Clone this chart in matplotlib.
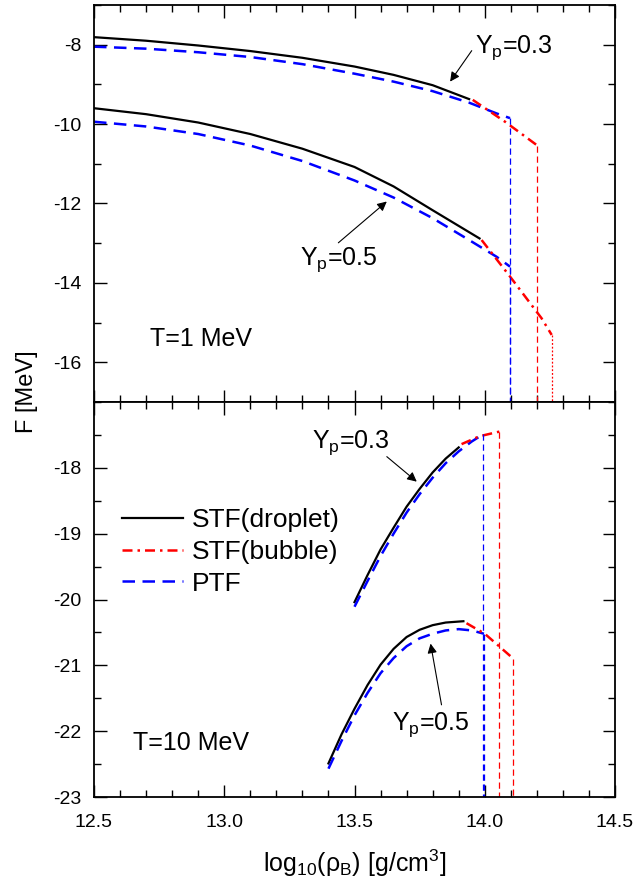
# -*- coding: utf-8 -*-
import matplotlib
matplotlib.use("Agg")
import matplotlib.pyplot as plt
from matplotlib.ticker import MultipleLocator, FixedLocator

plt.rcParams['font.family'] = ['Liberation Sans', 'DejaVu Sans']
plt.rcParams['mathtext.default'] = 'regular'
plt.rcParams['axes.unicode_minus'] = False

# ---- T = 1 MeV (top panel) ----
t1_drop03_x = [12.5, 12.7, 12.9, 13.1, 13.3, 13.5, 13.65, 13.8, 13.94]
t1_drop03_y = [-7.81, -7.90, -8.02, -8.16, -8.33, -8.55, -8.76, -9.02, -9.37]
t1_ptf03_x = [12.5, 12.7, 12.9, 13.1, 13.3, 13.5, 13.65, 13.8, 13.94, 14.045, 14.097]
t1_ptf03_y = [-8.05, -8.10, -8.19, -8.31, -8.49, -8.73, -8.93, -9.17, -9.46, -9.73, -9.85]
t1_bub03_x = [13.954, 14.08, 14.202]
t1_bub03_y = [-9.39, -9.95, -10.54]

t1_drop05_x = [12.5, 12.7, 12.9, 13.1, 13.3, 13.5, 13.65, 13.8, 13.98]
t1_drop05_y = [-9.60, -9.75, -9.96, -10.25, -10.62, -11.08, -11.57, -12.17, -12.88]
t1_ptf05_x = [12.5, 12.7, 12.9, 13.1, 13.3, 13.5, 13.65, 13.8, 13.94, 14.045, 14.097]
t1_ptf05_y = [-9.94, -10.06, -10.25, -10.54, -10.93, -11.42, -11.85, -12.37, -12.92, -13.34, -13.59]
t1_bub05_x = [13.988, 14.097, 14.218, 14.257]
t1_bub05_y = [-12.92, -13.84, -14.89, -15.31]

# ---- T = 10 MeV (bottom panel) ----
t10_drop03_x = [13.5, 13.55, 13.6, 13.65, 13.7, 13.75, 13.8, 13.85, 13.9]
t10_drop03_y = [-20.04, -19.63, -19.24, -18.91, -18.59, -18.32, -18.07, -17.86, -17.69]
t10_ptf03_x = [13.5, 13.55, 13.6, 13.65, 13.7, 13.75, 13.8, 13.85, 13.9, 13.95, 13.994]
t10_ptf03_y = [-20.11, -19.72, -19.34, -19.00, -18.68, -18.40, -18.15, -17.93, -17.75, -17.60, -17.49]
t10_bub03_x = [13.911, 13.98, 14.056]
t10_bub03_y = [-17.64, -17.52, -17.45]

t10_drop05_x = [13.4, 13.45, 13.5, 13.55, 13.6, 13.65, 13.7, 13.75, 13.8, 13.85, 13.918]
t10_drop05_y = [-22.49, -22.05, -21.66, -21.30, -20.99, -20.75, -20.57, -20.46, -20.39, -20.35, -20.33]
t10_ptf05_x = [13.4, 13.45, 13.5, 13.55, 13.6, 13.65, 13.7, 13.75, 13.8, 13.85, 13.9, 13.95, 13.997]
t10_ptf05_y = [-22.57, -22.15, -21.76, -21.42, -21.12, -20.89, -20.71, -20.59, -20.52, -20.47, -20.45, -20.47, -20.52]
t10_bub05_x = [13.93, 14.0, 14.058, 14.11]
t10_bub05_y = [-20.36, -20.52, -20.72, -20.90]

legend_labels = ['STF(droplet)', 'STF(bubble)', 'PTF']

BLUE_DASH = (5, 3)
RED_DASHDOT = (4, 2, 1, 2)
THIN_DASH = (5, 3)
THIN_DOT = (1.5, 1.5)


def style_axes(ax):
    for sp in ax.spines.values():
        sp.set_linewidth(1.3)
    ax.tick_params(which='both', direction='in', top=True, right=True,
                   labelsize=14, width=1.0)
    ax.tick_params(which='major', length=9)
    ax.tick_params(axis='x', which='major', pad=12)
    ax.tick_params(axis='y', which='major', pad=9)
    ax.tick_params(which='minor', length=5)
    ax.xaxis.set_major_locator(MultipleLocator(0.5))
    ax.xaxis.set_minor_locator(MultipleLocator(0.1))
    ax.set_xlim(12.5, 14.5)


def curves(ax, drop, ptf, bub, bottom, drop_style, label=False):
    kw = dict(label=legend_labels[0]) if label else {}
    ax.plot(drop[0], drop[1], color='black', lw=1.6, **kw)
    kw = dict(label=legend_labels[2]) if label else {}
    ax.plot(ptf[0], ptf[1], color='blue', lw=1.8, dashes=BLUE_DASH, **kw)
    kw = dict(label=legend_labels[1]) if label else {}
    ax.plot(bub[0], bub[1], color='red', lw=1.8, dashes=RED_DASHDOT, **kw)
    # drop lines down to the axis
    ax.plot([ptf[0][-1], ptf[0][-1]], [ptf[1][-1], bottom], color='blue',
            lw=0.9, dashes=THIN_DASH)
    ax.plot([bub[0][-1], bub[0][-1]], [bub[1][-1], bottom], color='red',
            lw=0.9, dashes=drop_style)


def yp(ax, text, tx, ty, tail, head):
    ax.text(tx, ty, text, fontsize=18, ha='left', va='baseline')
    ax.annotate('', xy=head, xytext=tail,
                arrowprops=dict(arrowstyle='-|>', color='black', lw=0.8,
                                mutation_scale=14, shrinkA=0, shrinkB=0))


def main():
    fig = plt.figure(figsize=(6.34, 8.88), dpi=100)
    W, H = 634.0, 888.0
    ax1 = fig.add_axes([94 / W, 1 - 402 / H, 521 / W, 397 / H])
    ax2 = fig.add_axes([94 / W, 1 - 797 / H, 521 / W, 395 / H])

    # top panel
    style_axes(ax1)
    ax1.set_ylim(-17, -7)
    ax1.yaxis.set_major_locator(FixedLocator([-16, -14, -12, -10, -8]))
    ax1.yaxis.set_minor_locator(FixedLocator([-17, -15, -13, -11, -9, -7]))
    ax1.tick_params(axis='x', labelbottom=False)
    curves(ax1, (t1_drop03_x, t1_drop03_y), (t1_ptf03_x, t1_ptf03_y),
           (t1_bub03_x, t1_bub03_y), -17, THIN_DASH)
    curves(ax1, (t1_drop05_x, t1_drop05_y), (t1_ptf05_x, t1_ptf05_y),
           (t1_bub05_x, t1_bub05_y), -17, THIN_DOT)
    yp(ax1, 'Y$_p$=0.3', 13.963, -8.21, (13.95, -8.15), (13.867, -8.93))
    yp(ax1, 'Y$_p$=0.5', 13.291, -13.55, (13.438, -12.99), (13.624, -11.95))
    ax1.text(12.715, -15.58, 'T=1 MeV', fontsize=18, ha='left', va='baseline')

    # bottom panel
    style_axes(ax2)
    ax2.set_ylim(-23, -17)
    ax2.yaxis.set_major_locator(FixedLocator([-23, -22, -21, -20, -19, -18]))
    ax2.yaxis.set_minor_locator(MultipleLocator(0.5))
    curves(ax2, (t10_drop03_x, t10_drop03_y), (t10_ptf03_x, t10_ptf03_y),
           (t10_bub03_x, t10_bub03_y), -23, THIN_DASH, label=True)
    curves(ax2, (t10_drop05_x, t10_drop05_y), (t10_ptf05_x, t10_ptf05_y),
           (t10_bub05_x, t10_bub05_y), -23, THIN_DASH)
    yp(ax2, 'Y$_p$=0.3', 13.335, -17.70, (13.624, -17.83), (13.739, -18.21))
    yp(ax2, 'Y$_p$=0.5', 13.643, -21.98, (13.834, -21.60), (13.792, -20.67))
    ax2.text(12.651, -22.28, 'T=10 MeV', fontsize=18, ha='left', va='baseline')

    h, l = ax2.get_legend_handles_labels()
    order = [l.index(x) for x in legend_labels]
    ax2.legend([h[i] for i in order], [l[i] for i in order], loc='upper left',
               bbox_to_anchor=(0.054, 0.732), frameon=False, fontsize=19,
               handlelength=2.3, handletextpad=0.35, labelspacing=0.3,
               borderpad=0, borderaxespad=0)

    ax2.set_xlabel('log$_{10}$(ρ$_B$) [g/cm$^3$]', fontsize=18, labelpad=12)
    fig.text(27 / W, 1 - 392 / H, 'F [MeV]', rotation=90, fontsize=17,
             ha='center', va='center')

    fig.savefig('out.png', dpi=100)


if __name__ == "__main__":
    main()
